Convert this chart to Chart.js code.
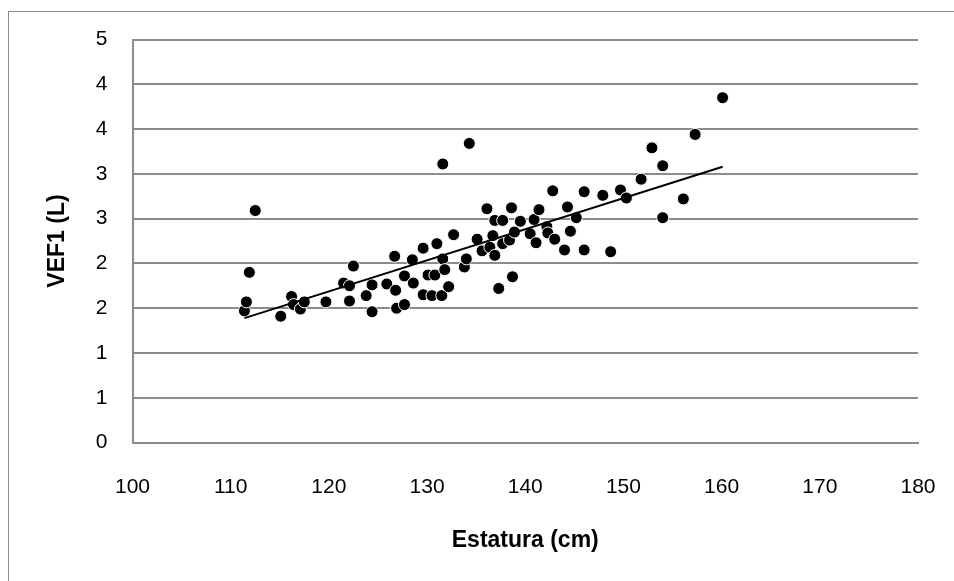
<!DOCTYPE html>
<html>
<head>
<meta charset="utf-8">
<script src="https://cdn.jsdelivr.net/npm/chart.js@4/dist/chart.umd.min.js"></script>
<style>
  html, body { margin: 0; padding: 0; background: #fff; }
  #wrap { position: relative; width: 954px; height: 581px; overflow: hidden; }
  #frame { position: absolute; left: 8px; top: 11px; width: 1000px; height: 700px;
           border-left: 1px solid #8c8c8c; border-top: 1px solid #8c8c8c; }
  #c { position: absolute; left: 0; top: 0; }
</style>
</head>
<body>
<div id="wrap">
  <div id="frame"></div>
  <canvas id="c" width="954" height="581"></canvas>
</div>
<script>
// estatura (cm) y VEF1 (L)
var estatura = [111.4, 111.6, 111.9, 112.5, 115.1, 116.2, 116.4, 117.1, 117.5, 119.7,
  121.5, 122.1, 122.1, 122.5, 123.8, 124.4, 124.4, 125.9, 126.7, 126.8,
  126.9, 127.7, 127.7, 128.5, 128.6, 129.6, 129.6, 130.1, 130.5, 130.8,
  131.0, 131.5, 131.6, 131.6, 131.8, 132.2, 132.7, 133.8, 134.0, 134.3,
  135.1, 135.6, 136.1, 136.4, 136.7, 136.9, 136.9, 137.3, 137.7, 137.7,
  138.4, 138.6, 138.7, 138.9, 139.5, 140.5, 140.9, 141.1, 141.4, 142.2,
  142.3, 142.8, 143.0, 144.0, 144.3, 144.6, 145.2, 146.0, 146.0, 147.9,
  148.7, 149.7, 150.3, 151.8, 152.9, 154.0, 154.0, 156.1, 157.3, 160.1];
var vef1 = [1.47, 1.57, 1.90, 2.59, 1.41, 1.63, 1.54, 1.49, 1.57, 1.57,
  1.78, 1.75, 1.58, 1.97, 1.64, 1.76, 1.46, 1.77, 2.08, 1.70,
  1.50, 1.86, 1.54, 2.04, 1.78, 2.17, 1.65, 1.87, 1.64, 1.87,
  2.22, 1.64, 2.05, 3.11, 1.93, 1.74, 2.32, 1.96, 2.05, 3.34,
  2.27, 2.14, 2.61, 2.18, 2.31, 2.48, 2.09, 1.72, 2.48, 2.22,
  2.26, 2.62, 1.85, 2.35, 2.47, 2.33, 2.49, 2.23, 2.60, 2.41,
  2.34, 2.81, 2.27, 2.15, 2.63, 2.36, 2.51, 2.80, 2.15, 2.76,
  2.13, 2.82, 2.73, 2.94, 3.29, 3.09, 2.51, 2.72, 3.44, 3.85];
// etiquetas del eje Y tal como salen (redondeadas a entero)
var yTickLabels = ["0", "1", "1", "2", "2", "3", "3", "4", "4", "5"];

// linea de tendencia lineal (minimos cuadrados)
function linearFit(xs, ys) {
  var n = xs.length, sx = 0, sy = 0, sxy = 0, sxx = 0;
  for (var i = 0; i < n; i++) {
    sx += xs[i]; sy += ys[i]; sxy += xs[i] * ys[i]; sxx += xs[i] * xs[i];
  }
  var m = (n * sxy - sx * sy) / (n * sxx - sx * sx);
  return { m: m, b: (sy - m * sx) / n };
}
var fit = linearFit(estatura, vef1);
var xMin = Math.min.apply(null, estatura);
var xMax = Math.max.apply(null, estatura);
var trend = [
  { x: xMin, y: fit.m * xMin + fit.b },
  { x: xMax, y: fit.m * xMax + fit.b }
];

var points = estatura.map(function (x, i) { return { x: x, y: vef1[i] }; });

var gridColor = "#8c8c8c";
var fontFam = "'Liberation Sans', Arial, sans-serif";
var titleFam = "'Liberation Sans Narrow', 'Liberation Sans', Arial, sans-serif";

new Chart("c", {
  type: "scatter",
  data: {
    datasets: [{
      data: points,
      backgroundColor: "#000",
      borderColor: "#fff",
      borderWidth: 1,
      pointRadius: 6,
      order: 2
    }, {
      type: "line",
      data: trend,
      borderColor: "#000",
      borderWidth: 2,
      pointRadius: 0,
      fill: false,
      order: 1
    }]
  },
  options: {
    responsive: false,
    animation: false,
    layout: { padding: { left: 0, top: 39.5, right: 36, bottom: 8 } },
    plugins: { legend: { display: false }, tooltip: { enabled: false } },
    scales: {
      x: {
        type: "linear",
        min: 100, max: 180,
        ticks: { stepSize: 10, padding: 32, color: "#000", font: { family: fontFam, size: 21 } },
        grid: { display: false, drawTicks: false },
        border: { color: gridColor, width: 2 },
        title: { display: true, text: "Estatura (cm)", color: "#000",
                 font: { family: titleFam, size: 23, weight: "bold" }, padding: { top: 0, bottom: 18.6 } },
        afterFit: function (s) { s.height = 130.5; s.paddingLeft = 0; s.paddingRight = 0; }
      },
      y: {
        min: 0, max: 4.5,
        ticks: {
          stepSize: 0.5, padding: 25, color: "#000", font: { family: fontFam, size: 21 },
          callback: function (v, i) { return yTickLabels[i]; }
        },
        grid: { color: gridColor, lineWidth: 2, drawTicks: false },
        border: { color: gridColor, width: 2 },
        title: { display: true, text: "VEF1 (L)", color: "#000",
                 font: { family: titleFam, size: 23, weight: "bold" }, padding: { top: 43.6, bottom: 0 } },
        afterFit: function (s) { s.width = 132.5; s.paddingTop = 0; s.paddingBottom = 0; }
      }
    }
  }
});
</script>
</body>
</html>
